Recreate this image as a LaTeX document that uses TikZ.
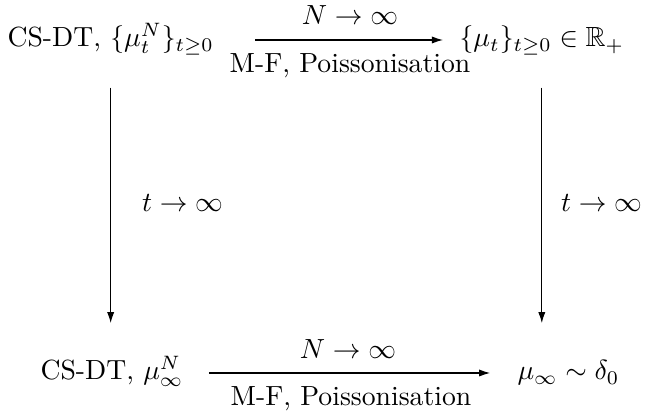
\documentclass[tikz,border=0pt]{standalone}
\usepackage{amsmath,amssymb}
\usetikzlibrary{arrows.meta}
\begin{document}
\begin{tikzpicture}[x=0.361pt,y=-0.361pt,
  lbl/.style={inner sep=0pt,anchor=base},
  obj/.style={inner sep=0pt,text height=9pt,text depth=4pt,anchor=west},
  arr/.style={-{Latex[length=4pt,width=2.6pt]},line width=0.4pt}]
\useasboundingbox (0,0) rectangle (650,414);
\node[obj] (A) at (7,40) {CS-DT, $\{\mu_t^N\}_{t\geq 0}$};
\node[obj] (B) at (459,40) {$\{\mu_t\}_{t\geq 0}\in\mathbb{R}_+$};
\node[obj] (C) at (40,373) {CS-DT, $\mu_\infty^N$};
\node[obj] (D) at (517,373) {$\mu_\infty\sim\delta_0$};
\draw[arr,shorten <=14.8pt,shorten >=5.8pt] (A) -- (B);
\draw[arr,shorten <=9pt,shorten >=9.7pt] (C) -- (D);
\draw[arr,shorten <=10.5pt,shorten >=18pt] (A) -- (A |- C);
\draw[arr,shorten <=10.5pt,shorten >=18pt] (B) -- (B |- D);
\node[lbl] (n1) at (350,25) {$N\to\infty$};
\node[lbl] (p1) at (350,73) {M-F, Poissonisation};
\node[lbl] (t1) at (182.5,212) {$t\to\infty$};
\node[lbl] (t2) at (601.5,212) {$t\to\infty$};
\node[lbl] (n2) at (348,359) {$N\to\infty$};
\node[lbl] (p2) at (351,406) {M-F, Poissonisation};
\end{tikzpicture}
\end{document}
